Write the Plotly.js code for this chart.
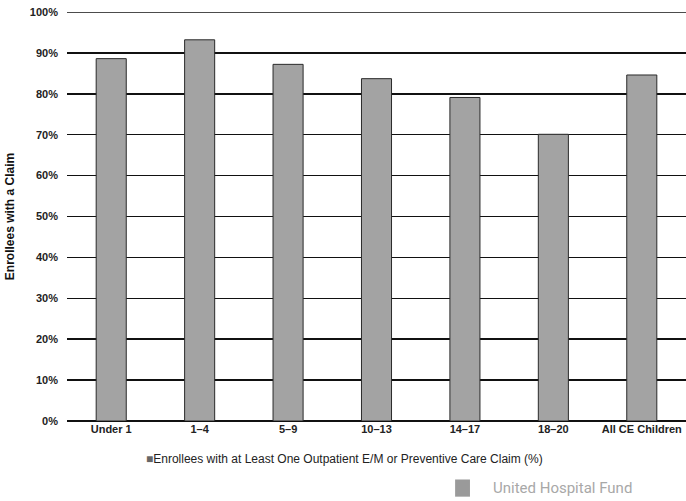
<!DOCTYPE html>
<html>
<head>
<meta charset="utf-8">
<script src="https://cdn.plot.ly/plotly-3.0.1.min.js"></script>
<style>html,body{margin:0;padding:0;background:#fff;}#chart{width:686px;height:501px;}</style>
</head>
<body>
<div id="chart"></div>
<script>
var categories = ["Under 1", "1\u20134", "5\u20139", "10\u201313", "14\u201317", "18\u201320", "All CE Children"];
var values = [88.6, 93.2, 87.2, 83.7, 79.1, 70.1, 84.6];
var seriesName = "Enrollees with at Least One Outpatient E/M or Preventive Care Claim (%)";
var yTickVals = [0, 10, 20, 30, 40, 50, 60, 70, 80, 90, 100];
var yTickText = ["0%", "10%", "20%", "30%", "40%", "50%", "60%", "70%", "80%", "90%", "100%"];

var font = "Liberation Sans, Arial, sans-serif";
var trace = {
  type: "bar",
  x: categories,
  y: values,
  name: seriesName,
  width: 0.34,
  marker: {color: "#a3a3a3", line: {color: "#2a2a2a", width: 1}},
  hoverinfo: "skip",
  showlegend: false
};
var layout = {
  width: 686, height: 501,
  margin: {l: 67, r: 0, t: 12, b: 80},
  paper_bgcolor: "#fff", plot_bgcolor: "#fff",
  font: {family: font, color: "#222", size: 11},
  bargap: 0.66,
  xaxis: {
    tickfont: {family: font, size: 11, color: "#222", weight: "bold"},
    showgrid: false, zeroline: false, showline: false, ticks: "",
    fixedrange: true
  },
  yaxis: {
    range: [0, 100],
    tickvals: yTickVals, ticktext: yTickText,
    tickfont: {family: font, size: 11, color: "#222", weight: "bold"},
    showgrid: true, gridcolor: "#111", gridwidth: 1.5,
    zeroline: true, zerolinecolor: "#111", zerolinewidth: 2,
    ticks: "", ticklen: 0, ticklabelstandoff: 8,
    title: {text: "Enrollees with a Claim", font: {family: font, size: 12, color: "#111", weight: "bold"}, standoff: 12},
    fixedrange: true
  },
  showlegend: false,
  annotations: [
    {xref: "paper", yref: "paper", x: 0.448, y: -0.093, xanchor: "center", yanchor: "middle",
     text: "<span style='color:#666'>\u25A0</span>" + seriesName, showarrow: false,
     font: {family: font, size: 12, color: "#222"}},
    {xref: "paper", yref: "paper", x: 0.801, y: -0.165, xanchor: "center", yanchor: "middle",
     text: "United Hospital Fund", showarrow: false,
     font: {family: "Liberation Sans Narrow, Roboto, Arial, sans-serif", size: 15, color: "#a8a8a8"}}
  ],
  shapes: [
    {type: "line", xref: "paper", yref: "y", x0: 0, x1: 1, y0: 100, y1: 100,
     line: {color: "#111", width: 1.5}},
    {type: "rect", xref: "paper", yref: "paper", x0: 0.627, x1: 0.651, y0: -0.185, y1: -0.143,
     fillcolor: "#9a9a9a", line: {width: 0}}
  ]
};
Plotly.newPlot("chart", [trace], layout, {displayModeBar: false, staticPlot: true});
</script>
</body>
</html>
